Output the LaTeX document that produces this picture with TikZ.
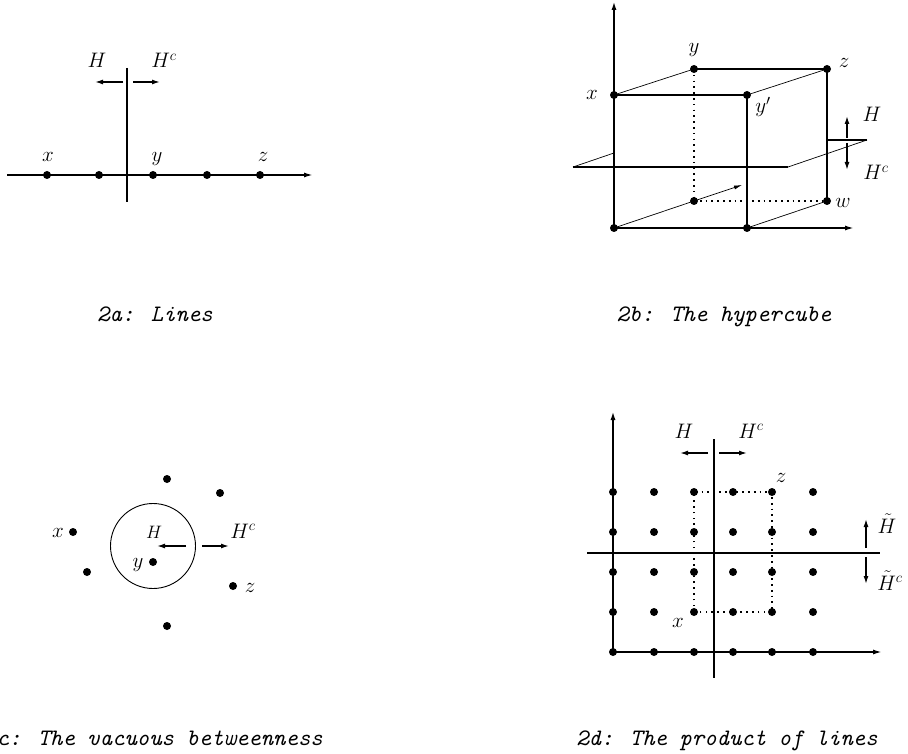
\documentclass[tikz,border=0pt]{standalone}
\usepackage{fix-cm}
\usetikzlibrary{positioning,calc,arrows.meta}

\begin{document}
\begin{tikzpicture}[x=1pt,y=-1pt]
\tikzset{
  dot/.style={circle, fill=black, inner sep=0pt, minimum size=8pt},
  lab/.style={anchor=base, inner sep=0pt, font=\fontsize{21}{25}\selectfont},
  capt/.style={anchor=base, inner sep=0pt, font=\fontsize{23.6}{28}\selectfont\ttfamily\itshape},
  axis/.style={line width=1.6pt, -{Latex[length=9pt, width=5pt]}},
  vaxis/.style={line width=2.4pt, -{Latex[length=9pt, width=5pt]}},
  heavy/.style={line width=1.8pt},
  edge/.style={line width=1.3pt},
  slant/.style={line width=0.7pt},
  hidden/.style={line width=1.7pt, dash pattern=on 1.7pt off 4.1pt},
  side/.style={line width=1.4pt, -{Latex[length=8pt, width=5pt]}}
}
\useasboundingbox (0,0) rectangle (908,754);

% 2a: lines
\coordinate (aL) at (7,175);
\coordinate (aR) at (313,175);
\coordinate (aT) at (127,68);
\coordinate (aB) at (127,202);
\draw[axis] (aL) -- (aR);
\draw[heavy] (aT) -- (aB);
\foreach \i/\px in {1/47,2/99,3/153,4/207,5/260}
  \node[dot] (a\i) at (\px,175) {};
\node[lab] (ax) at ($(a1)+(1,-13)$) {$x$};
\node[lab] (ay) at ($(a3)+(4,-13)$) {$y$};
\node[lab] (az) at ($(a5)+(3,-13)$) {$z$};
\coordinate (aH0) at (123,82);
\coordinate (aH1) at (95,82);
\coordinate (aC0) at (133,82);
\coordinate (aC1) at (160,82);
\draw[side] (aH0) -- (aH1);
\draw[side] (aC0) -- (aC1);
\node[lab] (aHl) at (97,68) {$H$};
\node[lab] (aCl) at (164,68) {$H^c$};
\node[capt] (acap) at (155,321) {2a: Lines};

% 2b: the hypercube
\node[dot] (bo) at (614,228) {};
\node[dot] (bq) at (747,228) {};
\node[dot] (bx) at (614,95) {};
\node[dot] (byp) at (747,95) {};
\node[dot] (by) at (694,69) {};
\node[dot] (bz) at (827,69) {};
\node[dot] (br) at (694,201) {};
\node[dot] (bw) at (827,201) {};
\coordinate (bT) at (614,1);
\coordinate (bR) at (854,228);
\coordinate (bA) at (742,185);
\coordinate (pA) at (573,167);
\coordinate (pB) at (788,167);
\coordinate (pC) at (867,140);
\coordinate (pD) at (827,140);
\coordinate (pE) at (614,153);
\draw[slant] (pA) -- (pE);
\draw[edge] (pA) -- (pB);
\draw[slant] (pB) -- (pC);
\draw[heavy] (pD) -- (pC);
\draw[vaxis] (bo.center) -- (bT);
\draw[axis] (bo.center) -- (bR);
\draw[edge] (bx.center) -- (byp.center);
\draw[edge] (by.center) -- (bz.center);
\draw[edge] (byp.center) -- (bq.center);
\draw[edge] (bz.center) -- (bw.center);
\draw[slant] (bx.center) -- (by.center);
\draw[slant] (byp.center) -- (bz.center);
\draw[slant] (bo.center) -- (br.center);
\draw[slant] (bq.center) -- (bw.center);
\draw[hidden] (by.center) -- (br.center);
\draw[hidden] (br.center) -- (bw.center);
\draw[slant, -{Latex[length=8pt, width=4pt]}] (br.center) -- (bA);
\coordinate (bH0) at (847,138);
\coordinate (bH1) at (847,116);
\coordinate (bC0) at (847,143);
\coordinate (bC1) at (847,170);
\draw[side] (bH0) -- (bH1);
\draw[side] (bC0) -- (bC1);
\node[lab] (bxl) at (592,100) {$x$};
\node[lab] (byl) at (694,53) {$y$};
\node[lab] (bzl) at (844,68) {$z$};
\node[lab] (bypl) at (763,113) {$y'$};
\node[lab] (bwl) at (843,208) {$w$};
\node[lab] (bHl) at (872,122) {$H$};
\node[lab] (bCl) at (876,180) {$H^c$};
\node[capt] (bcap) at (724,321) {2b: The hypercube};

% 2c: the vacuous betweenness
\node[circle, draw, line width=0.9pt, minimum size=85pt, inner sep=0pt] (cc) at (153,546) {};
\node[dot] (c1) at (167,479) {};
\node[dot] (c2) at (220,493) {};
\node[dot] (cx) at (73,532) {};
\node[dot] (c3) at (87,572) {};
\node[dot] (cy) at (153,562) {};
\node[dot] (cz) at (233,586) {};
\node[dot] (c4) at (167,626) {};
\coordinate (cH0) at (186,546);
\coordinate (cH1) at (157,546);
\coordinate (cC0) at (202,546);
\coordinate (cC1) at (229,546);
\draw[side] (cH0) -- (cH1);
\draw[side] (cC0) -- (cC1);
\node[lab, font=\fontsize{18}{22}\selectfont] (cHl) at (154,538) {$H$};
\node[lab] (cCl) at (243,538) {$H^c$};
\node[lab] (cxl) at (58,537) {$x$};
\node[lab] (cyl) at (138,567) {$y$};
\node[lab] (czl) at (250,592) {$z$};
\node[capt, anchor=base east] (ccap) at (323,745) {2c: The vacuous betweenness};

% 2d: the product of lines
\foreach \i/\px in {1/613,2/654,3/694,4/733,5/772,6/813}
  \foreach \j/\py in {1/652,2/612,3/572,4/532,5/492}
    \node[dot] (d\i\j) at (\px,\py) {};
\coordinate (dT) at (613,411);
\coordinate (dR) at (882,652);
\coordinate (dL) at (587,553);
\coordinate (dE) at (880,553);
\coordinate (dV0) at (714,439);
\coordinate (dV1) at (714,678);
\draw[hidden] (d32.center) -- (d35.center) -- (d55.center) -- (d52.center) -- cycle;
\draw[vaxis] (d11.center) -- (dT);
\draw[axis] (d11.center) -- (dR);
\draw[heavy, line width=2.2pt] (dL) -- (dE);
\draw[edge] (dV0) -- (dV1);
\coordinate (dH0) at (708,453);
\coordinate (dH1) at (680,453);
\coordinate (dC0) at (719,453);
\coordinate (dC1) at (747,453);
\draw[side] (dH0) -- (dH1);
\draw[side] (dC0) -- (dC1);
\coordinate (dU0) at (866,548);
\coordinate (dU1) at (866,519);
\coordinate (dD0) at (866,557);
\coordinate (dD1) at (866,584);
\draw[side] (dU0) -- (dU1);
\draw[side] (dD0) -- (dD1);
\node[lab] (dHl) at (684,438) {$H$};
\node[lab] (dCl) at (751,438) {$H^c$};
\node[lab] (dzl) at (781,482) {$z$};
\node[lab] (dxl) at (678,627) {$x$};
\node[lab] (dUl) at (887,533) {$\tilde{H}$};
\node[lab] (dDl) at (890,590) {$\tilde{H}^c$};
\node[capt] (dcap) at (727,745) {2d: The product of lines};
\end{tikzpicture}
\end{document}
